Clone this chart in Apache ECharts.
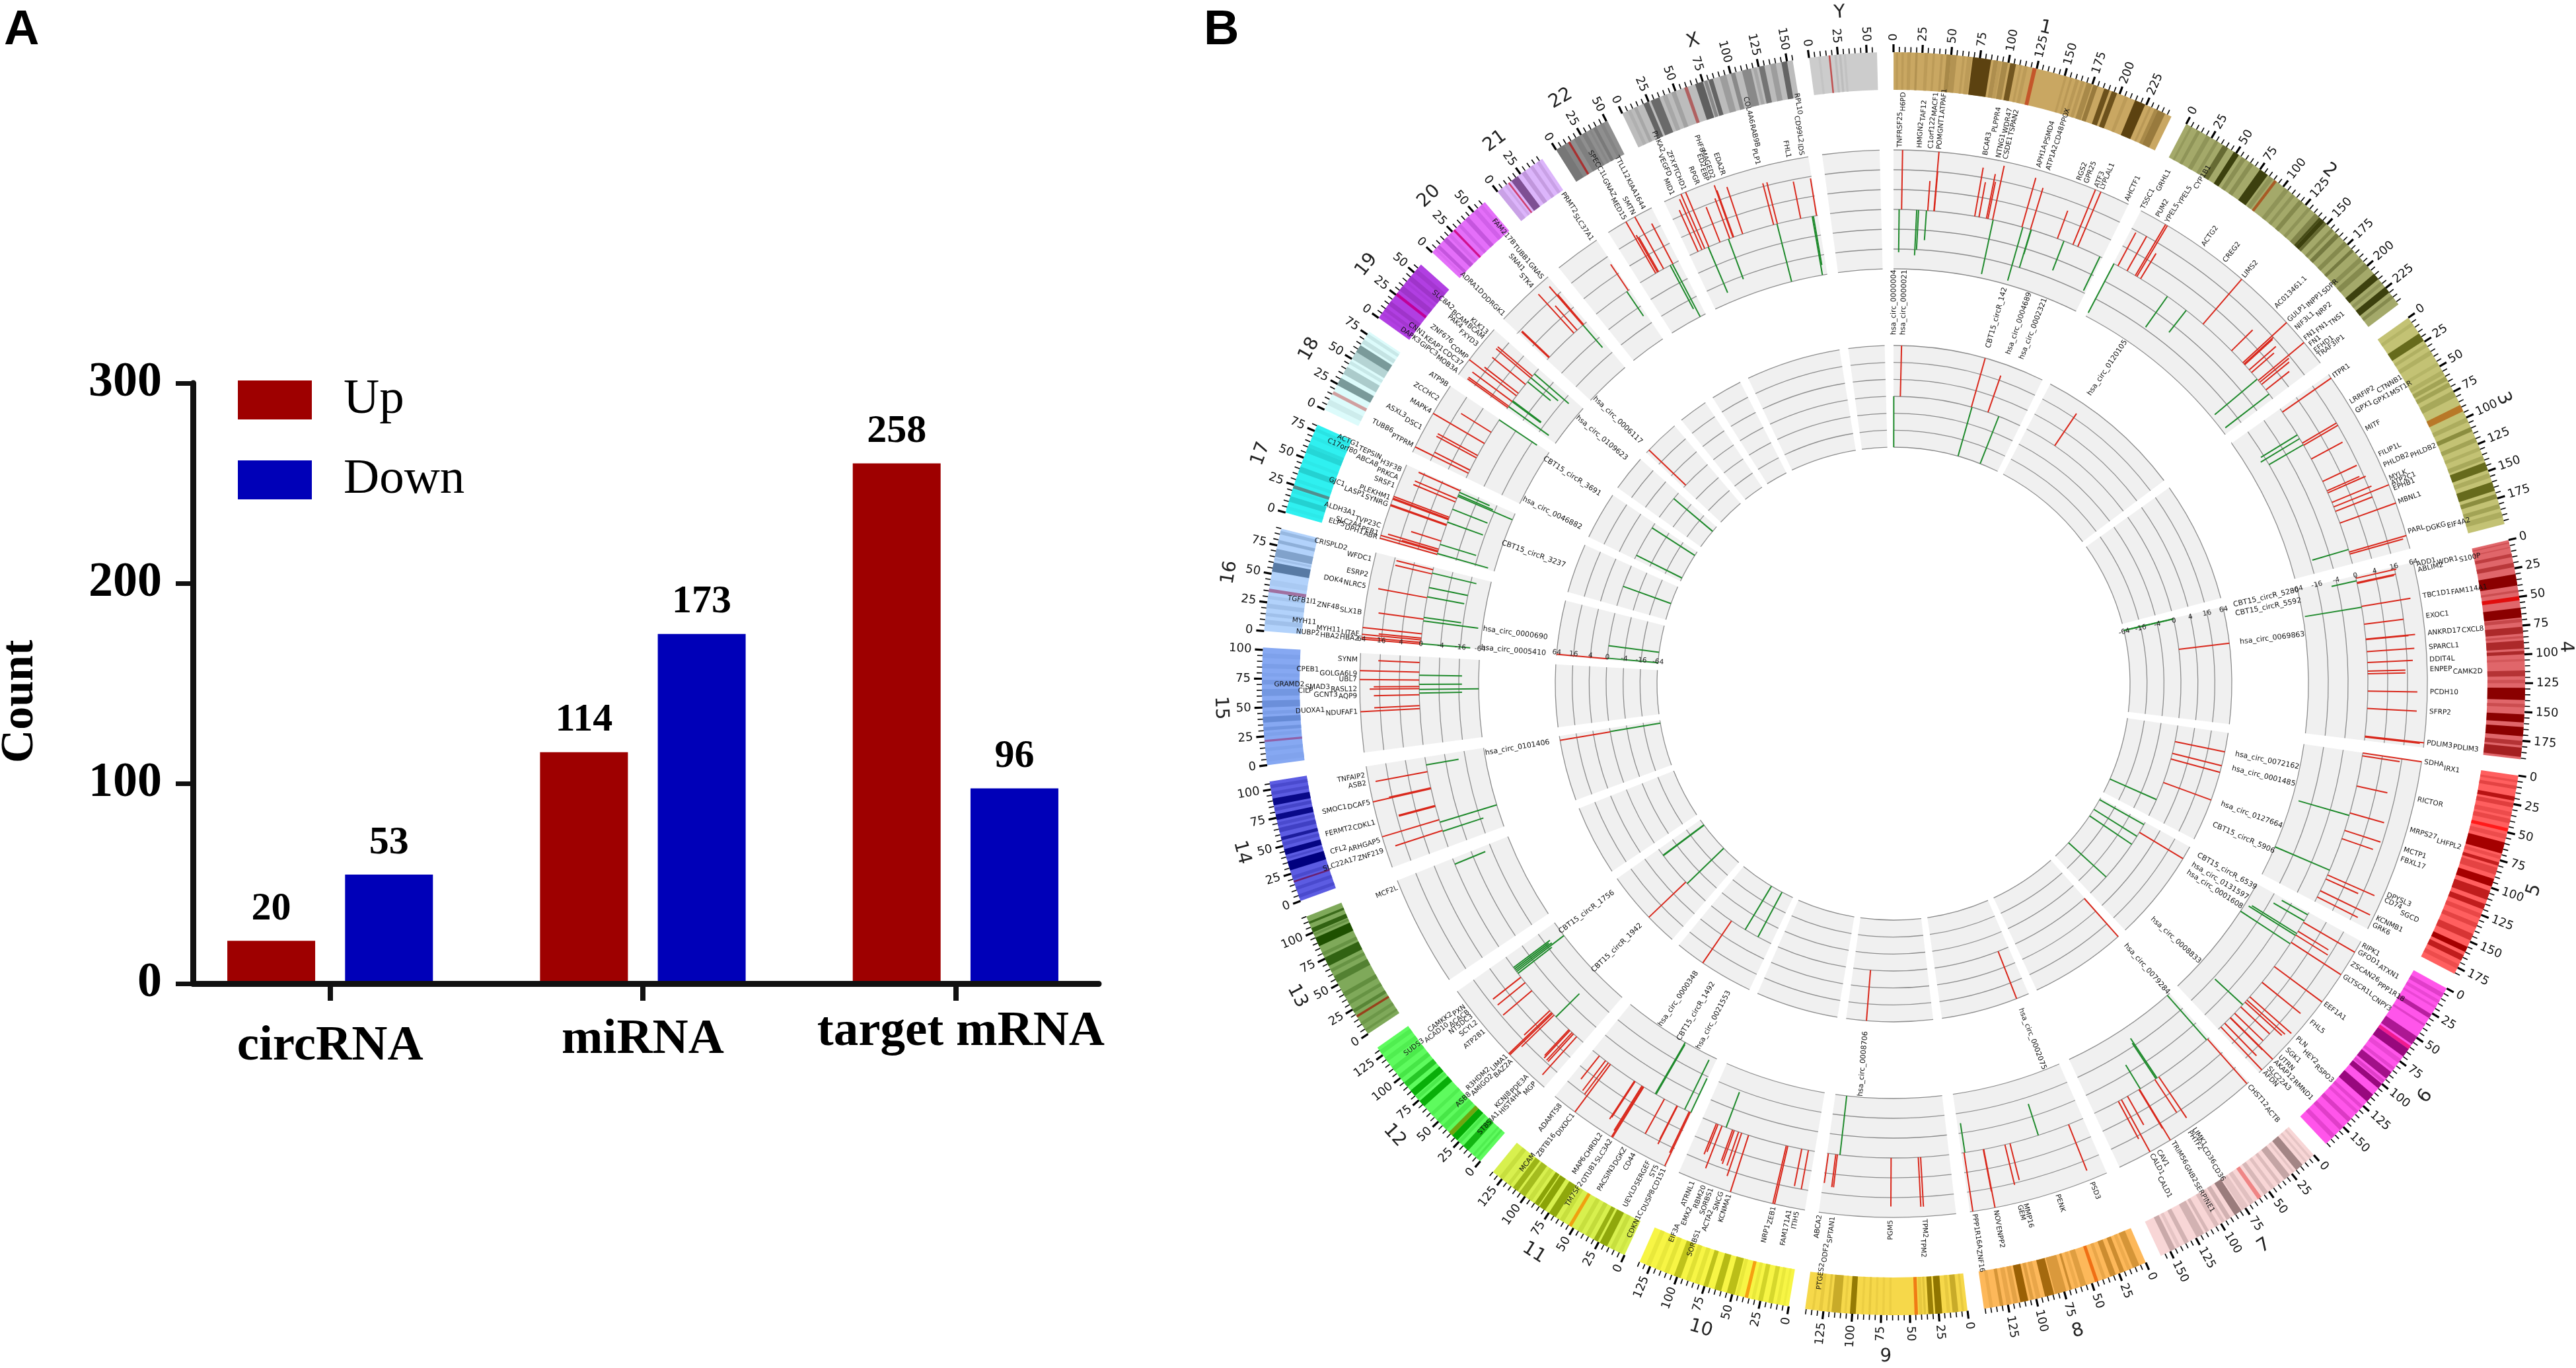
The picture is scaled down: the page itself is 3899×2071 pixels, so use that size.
<!DOCTYPE html>
<html><head><meta charset="utf-8"><style>html,body{margin:0;padding:0;background:#fff}#c{width:3899px;height:2071px}</style>
<script src="https://cdn.jsdelivr.net/npm/echarts@6/dist/echarts.min.js"></script></head>
<body><div id="c"></div><script>
// ---------- Panel A data ----------
const barCategories=['circRNA','miRNA','target mRNA'];
const upCounts=[20,114,258];
const downCounts=[53,173,96];
// ---------- Panel B data ----------
const chromNames=['1','2','3','4','5','6','7','8','9','10','11','12','13','14','15','16','17','18','19','20','21','22','X','Y'];
const chromSizes=[249,243,198,191,181,171,159,146,141,135,135,133,115,107,102,90,81,78,59,63,48,51,155,59];
const chromBase=['#c9a762','#a4a96a','#c3c274','#e0666a','#ff5f5f','#ff55ea','#f8d6d6','#fdb85a','#f6d84a','#f7f545','#d8f04e','#5efb5e','#7fa95a','#5c5ce2','#86a8f2','#b2d2fb','#2ff0f0','#dcfbfb','#b13fe2','#e46ff9','#dcb5fb','#8f8f8f','#bcbcbc','#cccccc'];
const chromDark=['#5c4210','#3c400e','#666a1c','#8a0000','#a50000','#98087d','#9a7c7c','#9a6005','#8f7500','#9aa000','#829a00','#00a500','#1e5000','#00007e','#4f76c2','#587aa4','#1fc4c4','#7a9a9a','#8423a5','#a53bc2','#7e4f93','#5a5a5a','#555555','#999999'];
const chromCentro=['#c4562a','#a85a25','#b87828','#e00d0d','#ff1a1a','#f01b8e','#ef8585','#f06f15','#f07c15','#f5a012','#f0a010','#70a510','#98401a','#6a1f6f','#9060a8','#a070a0','#508f8f','#d0a0a0','#c00098','#d0108e','#d0406f','#a83030','#b06060','#c05050'];
// [startMb,endMb,stain]; stain -1 is the centromere, otherwise the share of the dark colour
const chromBands=[
[[2,4,.12],[7,9,.12],[12,15,.12],[19,21,.2],[27,30,.12],[34,36,.12],[41,43,.15],[46,50,.3],[50,55,.2],[60,62,.12],[64,68,.12],[68.9,84.9,1],[87,91,.25],[91,94,.12],[94.7,99.7,.3],[101.7,106.7,.8],[110,112,.12],[114,117,.12],[121.5,125,-1],[150,152,.12],[155,157,.15],[160,163,.15],[165,168,.15],[170,175,.3],[176,180,.45],[186,190.8,.85],[193,197.8,.85],[205,208,.12],[214.5,224,1],[228,230,.15],[233,236,.3],[236,243,.45]],
[[4,6,.15],[11,14,.2],[20,24,.2],[29,32,.2],[36.6,41.8,.6],[47.8,52.9,1],[56,60,.25],[64,68,.25],[75,83.3,1],[85,89,.2],[90.5,93,-1],[102,106,.2],[110,113,.2],[118,122,.3],[128,131,.2],[136,141,.35],[141,143,.9],[143,147,1],[147,149.6,.6],[155,158,.3],[161,165,.45],[171,175,.3],[180,183,.45],[190,194,.25],[197,202,.3],[209,215,1],[218,221,.2],[224,230,1],[233,236,.3]],
[[5,8,.15],[16.4,23.9,1],[27,30,.2],[34,38,.2],[46,49,.15],[54,58,.2],[60,64,.35],[66,70,.35],[74,80,.3],[87.9,93.9,-1],[100,104,.25],[109,113,.6],[119,123,.35],[128,131,.2],[136,140,.3],[142,149,1],[152,156,.25],[160,168,1],[171,175,.6],[180,184,.35],[187,192,.25]],
[[2,3,.25],[6,7,.2],[12,15,.4],[20,24,.45],[30,40,1],[44,46,.25],[49.5,53,-1],[59.5,68,1],[69,72,.3],[76,82,.6],[84,86,.25],[88,95,.6],[97,100,.6],[104,106,.15],[114,119,.5],[122,125,.2],[129,139.5,1],[143,146,.25],[152,159,1],[163,171,1],[175,179,.5],[181,189,.7]],
[[4,6,.2],[9,12,.3],[18.4,22,.8],[24,28,.35],[32,36,.2],[38,42,.25],[46.4,49.4,-1],[52,56,.2],[59,69,1],[71,74,.2],[77,80,.7],[82,88,.3],[92,98.9,1],[103,111,.7],[115,120,.7],[124,128,.25],[133,137,.3],[143,149,.45],[155,160,1],[163,168,.7],[172,176,.2]],
[[5,9,.3],[12,15,.2],[18,20,.2],[26,30,.7],[36,38,.3],[49,57,.8],[58.8,62,-1],[62,70,1],[73,77,.2],[82,85,.25],[87,94,.9],[96,99,.3],[100,105,1],[112,120,1],[125,128,.25],[131,134,.2],[140,144,.35],[150,154,.3],[160,164,.25]],
[[3,5,.2],[8,10,.2],[13,20,.9],[22,24,.2],[27,33,.55],[37,40,.3],[44,47,.25],[51,55,.35],[58,61.7,-1],[66,70,.25],[72,78,.2],[79,86,1],[90,94,.4],[96,99,.25],[102,106,.3],[112,115,.35],[117,124,.4],[132,136,.4],[140,143,.2],[145,150,.5]],
[[6,12,.4],[14,17,.15],[20,24,.5],[28,33,.5],[37,40,.2],[44,47,-1],[55,60,.3],[62,65,.15],[68,70,.5],[73,83,.35],[84,92,.9],[96,100,.2],[102,105,.3],[107,114,1],[116,120,.25],[122,126,.2],[129,132,.4],[138,141,.15]],
[[3,5,.15],[8,13,.45],[15,18,.15],[22,28,1],[29.5,34,.9],[36,38,.2],[39,42,.15],[43,46,-1],[66,68,.1],[72,74,.1],[78,80,.1],[84,86,.15],[90,92,.1],[97,102,.95],[105,107,.12],[110,118,.45],[120,122,.2],[126,129,.15],[133,135,.12]],
[[3,5,.1],[8,11,.15],[14,18,.35],[23,27,.4],[30,33,.15],[36,39,-1],[44,47,.15],[48,55,.65],[60,66,.7],[72,76,.6],[80,84,.2],[88,92,.25],[97,103,.6],[108,112,.2],[116,120,.15],[125,129,.15]],
[[3,6,.12],[10,14,.2],[17,24,.85],[26,30,.75],[34,38,.25],[42,46,.2],[52,55,-1],[60,64,.2],[68,75,.85],[79,85,.9],[86,90,.9],[93,97,.2],[100,106,.6],[108,113,.7],[116,119,.2],[124,128,.2]],
[[3,5,.2],[7,9,.15],[14,20,.8],[23,26,.2],[27,33,.95],[33,37,-1],[40,45,.2],[48,52,.25],[57,60,.15],[68,74,.9],[76,79,.2],[80,86,.9],[90,95,.6],[99,103,.25],[108,112,.2],[118,122,.15],[126,130,.15]],
[[3,5,.2],[9,12,.2],[17,19,-1],[22,25,.4],[30,33,.25],[38,42,.3],[52,58,.45],[62,65,.25],[68,76,.8],[78,81,.25],[87,95,1],[97,99,.25],[100,104,.8],[108,110,.7]],
[[3,6,.2],[10,13,.2],[17,18.5,-1],[20,23,.2],[28,36,1],[38,40,.2],[42,47,.95],[50,53,.2],[55,58,.7],[62,66,.3],[68,71,.2],[73,78,.9],[81,84,.25],[86,92,.9],[95,98,.2],[101,104,.2]],
[[3,8,.1],[12,15,.15],[20,22,-1],[25,28,.15],[30,33,.4],[37,42,.6],[44,47,.2],[50,56,.5],[60,66,.35],[70,74,.3],[77,80,.12],[84,88,.2],[93,97,.15]],
[[6,10,.2],[13,16,.2],[20,24,.2],[28,31,.15],[34,37,-1],[40,45,.1],[52,60,1],[62,64,.2],[65,72,.55],[77,80,.4],[85,88,.3]],
[[3,6,.15],[10,15,.7],[18,21,.2],[22,25,-1],[28,31,.2],[37,42,.7],[46,49,.15],[55,60,.6],[60,63,.4],[68,71,.2],[75,78,.3]],
[[5,10,.15],[15,18,-1],[24,31,1],[35,42,.5],[45,48,.2],[50,57,.4],[57,64,1],[66,70,.25],[73,76,.2]],
[[4,6,.15],[8,11,.3],[14,18,.4],[24.5,27,-1],[30,35,.4],[38,40,.15],[42,46,.4],[50,54,.3]],
[[3,5,.15],[6,9,.5],[14,18,.6],[20,23,.2],[26,28,-1],[32,35,.3],[40,44,.5],[50,54,.3],[57,60,.2]],
[[0,5,.2],[8,10,.15],[11.5,13,-1],[15,22,1],[26,30,.3],[35,38,.25],[42,45,.2]],
[[0,8,.45],[8,12,.2],[12,14,-1],[18,23,.3],[26,30,.3],[33,35,.15],[37,40,.4],[44,47,.2]],
[[5,8,.12],[11,14,.2],[20,25,.85],[27,35,.8],[38,42,.2],[46,50,.25],[58,61,-1],[68,75,.9],[76,79,.5],[80,84,.85],[90,96,.3],[100,104,.5],[110,118,.5],[120,123,.2],[125,130,.7],[135,140,.3],[145,150,.85]],
[[8,10,.15],[17,18.5,-1],[22,24,.3],[26,28,.3],[30,32,.2]]];
const trackTicks=[-64,-16,-4,0,4,16,64];
const axisChromosomes=['4','16'];
// outer track: [chromosome, Mb, gene, signed fold change]
const midHits=[
['1',6.5,'TNFRSF25',-20],['1',9.3,'H6PD',64],['1',26.8,'HMGN2',-24],['1',28.9,'TAF12',-16],['1',38,'C1orf122',-8],['1',39.5,'MACF1',8],['1',46.6,'POMGNT1',64],['1',47,'ATPAF1',16],['1',94,'BCAR3',32],['1',99,'PLPPR4',12],['1',107.7,'NTNG1',24],['1',109.5,'WDR47',14],['1',115,'CSDE1',48],['1',115.6,'TSPAN2',-48],['1',149.8,'APH1A',36],['1',150.8,'PSMD4',-48],['1',160,'ATP1A2',21],['1',160.6,'CD48',-16],['1',161,'PPOX',-6],['1',192.8,'RGS2',8],['1',200.8,'GPR25',-9],['1',212,'ATF3',64],['1',218,'LYPLAL1',64],['1',246,'AHCTF1',-14],
['2',0.8,'TSSC1',-48],['2',6,'GRHL1',14],['2',18,'PUM2',16],['2',29,'YPEL5',64],['2',31,'YPEL5',64],['2',36,'CYP1B1',8],['2',73,'ACTG2',-14],['2',100,'CREG2',-7],['2',125,'LIMS2',64],['2',170,'AC013461.1',8],['2',189,'GULP1',64],['2',191,'INPP1',16],['2',192,'SDPR',14],['2',200,'NIF3L1',12],['2',204,'NRP2',8],['2',214,'FN1',-48],['2',216,'FN1',64],['2',218.7,'TNS1',14],['2',222,'FN1',12],['2',230,'EFHD1',8],['2',236,'TRAF3IP1',-48],
['3',4.6,'ITPR1',64],['3',36,'LRRFIP2',-20],['3',41,'CTNNB1',-24],['3',47,'GPX1',16],['3',49.2,'GPX1',-16],['3',49.9,'MST1R',16],['3',68,'MITF',12],['3',97,'FILIP1L',14],['3',109,'PHLDB2',12],['3',111.5,'PHLDB2',18],['3',123.5,'MYLK',20],['3',129,'ATP2C1',64],['3',134.5,'EPHB1',16],['3',149,'MBNL1',64],['3',181,'PARL',-14],['3',184,'DGKG',64],['3',186.5,'EIF4A2',48],
['4',2.9,'ADD1',18],['4',6,'WDR1',-6],['4',8,'S100P',16],['4',9,'ABLIM2',14],['4',36,'TBC1D1',32],['4',37,'FAM114A1',-56],['4',56.7,'EXOC1',16],['4',74,'ANKRD17',32],['4',74.6,'CXCL8',20],['4',88.4,'SPARCL1',28],['4',101,'DDIT4L',24],['4',111,'ENPEP',14],['4',114,'CAMK2D',14],['4',134,'PCDH10',32],['4',154,'SFRP2',32],['4',186,'PDLIM3',64],['4',187,'PDLIM3',48],
['5',0.3,'SDHA',64],['5',3.6,'IRX1',14],['5',39,'RICTOR',9],['5',71,'MRPS27',12],['5',74,'LHFPL2',-40],['5',92,'MCTP1',14],['5',102,'FBXL17',10],['5',141,'DPYSL3',-64],['5',147,'CD74',36],['5',152,'SGCD',12],['5',167,'KCNMB1',48],['5',175,'GRK6',24],
['6',3,'RIPK1',-8],['6',11,'GFOD1',-12],['6',13,'ATXN1',64],['6',25,'ZSCAN26',12],['6',28,'PPP1R18',-40],['6',30,'',14],['6',30.5,'',-48],['6',40,'GLTSCR1L',64],['6',42,'CNPY3',-64],['6',74,'EEF1A1',64],['6',97,'FHL5',32],['6',118.9,'PLN',48],['6',124,'HEY2',36],['6',127,'RSPO3',32],['6',131,'',-14],['6',134.5,'SGK1',16],['6',144.6,'UTRN',16],['6',151.5,'AKAP12',64],['6',152,'RMND1',24],['6',160.8,'SLC22A3',24],['6',167,'AFDN',64],
['7',2.5,'CHST12',64],['7',4,'ACTB',-64],['7',73.5,'LIMK1',32],['7',76,'CD36',-28],['7',77.5,'CD36',-20],['7',79,'PHTF2',16],['7',99,'TRIM56',-7],['7',100,'GNB2',64],['7',100.7,'SERPINE1',24],['7',116,'CAV1',10],['7',124,'CALD1',64],['7',128,'CALD1',20],
['8',18,'PSD3',32],['8',55,'PENK',-10],['8',89,'MMP16',14],['8',95,'GEM',18],['8',120,'NOV',64],['8',120.5,'ENPP2',20],['8',142,'PPP1R16A',-8],['8',143,'ZNF16',64],
['9',33,'TPM2',32],['9',35.7,'TPM2',32],['9',67,'PGM5',30],['9',126,'SPTAN1',-64],['9',129,'ODF2',10],['9',130.9,'PTGES2',10],['9',139.5,'ABCA2',8],
['10',7.5,'ITIH5',16],['10',15.3,'FAM171A1',14],['10',31.7,'ZEB1',64],['10',33.5,'NRP1',64],['10',78.6,'KCNMA1',64],['10',87,'SNCG',24],['10',90.7,'ACTA2',12],['10',96,'SORBS1',12],['10',98,'SORBS1',10],['10',106,'RBM20',-14],['10',111,'EMX2',24],['10',116,'EIF3A',8],['10',118,'ATRNL1',10],
['11',0.8,'CD151',-14],['11',1.6,'DUSP8',64],['11',2.9,'CDKN1C',24],['11',8.7,'ST5',-48],['11',18,'SERGEF',20],['11',18.6,'UEVLD',14],['11',35,'CD44',16],['11',46,'DGKZ',-56],['11',47,'PACSIN3',-64],['11',62.6,'SLC3A2',64],['11',63.7,'OTUB1',64],['11',64.9,'TM7SF2',40],['11',74.4,'CHRDL2',20],['11',75.3,'MAP6',24],['11',109,'DIXDC1',64],['11',112,'ZBTB16',16],['11',116,'MCAM',14],['11',125,'ADAMTS8',8],
['12',10,'MGP',36],['12',14.9,'HIST4H4',14],['12',17,'ST8SIA1',14],['12',20.5,'PDE3A',14],['12',22,'KCNJ8',12],['12',43,'BAZ2A',-10],['12',46,'AMIGO2',24],['12',48.5,'ASB8',64],['12',50,'LIMA1',64],['12',53,'R3HDM2',12],['12',84,'ATP2B1',14],['12',96,'SCYL2',12],['12',104,'NT5DC3',12],['12',109.5,'ACACB',-20],['12',112,'ACAD10',-64],['12',114,'SUDS3',-24],['12',116,'PXN',-20],['12',118,'CAMKK2',-24],
['13',108,'MCF2L',-10],
['14',19,'ZNF219',-20],['14',20,'SLC22A17',32],['14',30,'ARHGAP5',-64],['14',33,'CFL2',64],['14',49,'CDKL1',14],['14',50,'FERMT2',14],['14',70,'DCAF5',64],['14',71,'SMOC1',20],['14',90,'ASB2',40],['14',98,'TNFAIP2',-10],
['15',42,'NDUFAF1',64],['15',45.4,'DUOXA1',24],['15',58,'AQP9',24],['15',59.9,'GCNT3',-20],['15',64,'CILP',-64],['15',65,'RASL12',32],['15',67.4,'SMAD3',24],['15',70,'GRAMD2',-20],['15',75,'UBL7',64],['15',80.5,'GOLGA6L9',-20],['15',84,'CPEB1',64],['15',95,'SYNM',18],
['16',0.2,'HBA2',64],['16',0.5,'HBA2',-32],['16',2,'NUBP2',64],['16',5,'LITAF',64],['16',7,'MYH11',20],['16',12,'MYH11',64],['16',27,'SLX1B',-48],['16',29,'ZNF48',24],['16',31,'TGFB1I1',-14],['16',54,'NLRC5',32],['16',55,'DOK4',-14],['16',66,'ESRP2',-16],['16',82,'WFDC1',14],['16',83,'',-24],['16',87,'CRISPLD2',14],
['17',1,'ABR',64],['17',2,'DPH1',-40],['17',4,'ELP5',64],['17',5,'PER1',14],['17',7.2,'SLC2A4',40],['17',13,'TVP23C',-14],['17',17,'ALDH3A1',9],['17',36,'SYNRG',64],['17',37,'LASP1',64],['17',40,'GJC1',-14],['17',43,'PLEKHM1',64],['17',44,'',64],['17',46,'',64],['17',56,'SRSF1',-14],['17',65,'PRKCA',24],['17',69,'ABCA8',24],['17',72,'C17orf80',-64],['17',73.8,'H3F3B',-14],['17',77,'TEPSIN',-10],['17',79,'ACTG1',24],
['18',6,'PTPRM',64],['18',10,'TUBB6',16],['18',26,'DSC1',24],['18',29,'ASXL3',24],['18',45,'MAPK4',64],['18',60,'ZCCHC2',12],['18',77,'ATP9B',-24],
['19',2,'MOB3A',32],['19',3.6,'GIPC3',-32],['19',3.9,'DAPK3',32],['19',10.5,'CDC37',-12],['19',10.6,'KEAP1',32],['19',11.6,'CNN1',-12],['19',18.9,'COMP',64],['19',22.4,'ZNF676',20],['19',35.6,'FXYD3',20],['19',39.6,'PAK4',-8],['19',45.3,'BCAM',24],['19',45.4,'BCAM',-12],['19',47.9,'SLC8A2',24],['19',51.5,'KLK13',-24],
['20',3.2,'DDRGK1',14],['20',4.2,'ADRA1D',14],['20',43.6,'STK4',40],['20',48.6,'SNAI1',10],['20',57.4,'GNAS',36],['20',57.6,'TUBB1',-8],['20',58.5,'FAM217B',16],
['21',43.9,'SLC37A1',-8],['21',46,'PRMT2',9],
['22',21,'MED15',64],['22',23.4,'GNAZ',20],['22',24.7,'SPECC1L',16],['22',31.4,'SMTN',64],['22',40,'',-32],['22',43,'KIAA1644',-64],['22',43.5,'TTLL12',24],
['X',10.5,'MID1',24],['X',15.4,'VEGFD',48],['X',18.9,'PHKA2',64],['X',23.4,'PTCHD1',-32],['X',24,'ZFX',64],['X',38,'RPGR',14],['X',48.4,'EBP',-20],['X',50,'ED2',20],['X',54,'PHF8',48],['X',54.8,'MAGED2',32],['X',65.8,'EDA2R',32],['X',103,'PLP1',20],['X',107,'RAB9B',-64],['X',107.4,'COL4A6',20],['X',135,'FHL1',14],['X',148.5,'IDS',-64],['X',149.9,'CD99L2',-32],['X',153.6,'RPL10',14]
];
// inner track: [chromosome, Mb, circRNA, signed fold change]
const innerHits=[
['1',0.5,'hsa_circ_0000004',-64],['1',13,'hsa_circ_0000021',64],['1',150,'CBT15_circR_142',64],['1',151,'',-64],['1',183,'hsa_circ_0004689',24],['1',205,'hsa_circ_0002321',-64],
['2',62,'hsa_circ_0120105',24],
['4',1,'CBT15_circR_5280',-64],['4',1.4,'CBT15_circR_5592',-64],['4',60,'hsa_circ_0069863',64],
['5',31,'hsa_circ_0072162',64],['5',54,'hsa_circ_0001485',64],['5',65,'',64],['5',112,'hsa_circ_0127664',64],['5',147,'CBT15_circR_5906',-64],
['6',5,'CBT15_circR_6539',-64],['6',22,'hsa_circ_0131597',64],['6',31,'hsa_circ_0001608',-64],['6',49,'',-64],['6',128,'hsa_circ_0008833',-64],
['7',1,'hsa_circ_0079284',64],['8',21,'hsa_circ_0002075',64],['9',108,'hsa_circ_0008706',64],
['11',28,'hsa_circ_0021553',-64],['11',56,'CBT15_circR_1492',-64],['11',87,'hsa_circ_0000348',64],
['12',48,'',-64],['12',52,'CBT15_circR_1942',64],['12',118,'',-64],['12',119,'CBT15_circR_1756',-64],
['14',100,'hsa_circ_0101406',64],['14',100.5,'',-64],
['16',2,'hsa_circ_0005410',64],['16',3,'',-64],['16',27,'hsa_circ_0000690',-64],
['17',39,'CBT15_circR_3237',-64],['18',8,'hsa_circ_0046882',-64],['18',68,'CBT15_circR_3691',-64],['19',45,'hsa_circ_0109623',-64],['20',6,'hsa_circ_0006117',64]
];
// ---------- geometry of the chromosome ring ----------
const GAP=1.5, DEG=(360-GAP*chromSizes.length)/chromSizes.reduce((a,b)=>a+b,0);
const chromStart=[];{let t=0;chromSizes.forEach((s,i)=>{chromStart[i]=t;t+=s*DEG+GAP;});}
const angleOf=(c,mb)=>chromStart[chromNames.indexOf(c)]+mb*DEG;
const levelOf=v=>Math.sign(v)*Math.log(Math.abs(v))/Math.log(4);
const hex=h=>[1,3,5].map(i=>parseInt(h.substr(i,2),16));
const mix=(a,b,t)=>{const x=hex(a),y=hex(b);return 'rgb('+x.map((v,i)=>Math.round(v+(y[i]-v)*t)).join(',')+')';};
const FONT='"DejaVu Sans"', CENTER=[2866,1035], RED='#d9281c', GREEN='#1f8a2c';
const measure=document.createElement('canvas').getContext('2d');
const textWidth=(s,size)=>{measure.font=size+'px '+FONT;return measure.measureText(s).width;};
function sectorEl(api,params,r0,r1,a0,a1,fill){
  const p=api.coord([r0,a0]),q=api.coord([r1,a1]),cs=params.coordSys;
  return {type:'sector',shape:{cx:cs.cx,cy:cs.cy,r0:p[2],r:q[2],startAngle:Math.atan2(p[1]-cs.cy,p[0]-cs.cx),endAngle:Math.atan2(q[1]-cs.cy,q[0]-cs.cx),clockwise:true},style:{fill:fill}};
}
function outPoint(api,params,val,a,d){
  const p=api.coord([val,a]),cs=params.coordSys,r=p[2];
  return [cs.cx+(p[0]-cs.cx)*(r+d)/r,cs.cy+(p[1]-cs.cy)*(r+d)/r];
}
function radialText(api,params,val,a,d,text,size,fill){
  const p=outPoint(api,params,val,a,d),right=a%360<180;
  const cw=right?a-90:a-270;
  return {type:'text',x:p[0],y:p[1],rotation:-cw*Math.PI/180,style:{text:text,fontSize:size,fontFamily:FONT,fill:fill,align:right?'left':'right',verticalAlign:'middle',textAlign:right?'left':'right',textVerticalAlign:'middle'}};
}
// ---------- rows for the ring series ----------
const bandRows=[],bandFill=[];
chromNames.forEach((n,i)=>{
  bandRows.push([0,1,chromStart[i],chromStart[i]+chromSizes[i]*DEG]);bandFill.push(chromBase[i]);
  chromBands[i].forEach(b=>{bandRows.push([0,1,chromStart[i]+b[0]*DEG,chromStart[i]+b[1]*DEG]);bandFill.push(b[2]<0?chromCentro[i]:mix(chromBase[i],chromDark[i],b[2]));});
});
const tickRows=[];
chromNames.forEach((n,i)=>{for(let m=0;m<=chromSizes[i];m+=5)tickRows.push([1,chromStart[i]+m*DEG,m%25===0?1:0,m]);});
const chromLabelRows=chromNames.map((n,i)=>[1,chromStart[i]+chromSizes[i]*DEG/2]);
const trackRows=chromNames.map((n,i)=>[-3,3,chromStart[i],chromStart[i]+chromSizes[i]*DEG]);
const gridRows=[];
trackRows.forEach(t=>[-3,-2,-1,0,1,2,3].forEach(l=>gridRows.push([l,t[2],t[3]])));
const hitRows=h=>h.map(x=>[levelOf(x[3]),angleOf(x[0],x[1]),x[3]]);
const GENE_SIZE=10.5;
const midLabels=[];{let prev=null,off=0,count=0;midHits.forEach(h=>{if(!h[2])return;const a=angleOf(h[0],h[1]);
  if(prev&&a-prev.a<0.56&&prev.c===h[0]&&count<3){off+=textWidth(prev.n,GENE_SIZE)+1;count++;}else{off=0;count=1;}
  midLabels.push([3,a,off]);midLabels[midLabels.length-1].name=h[2];prev={a:a,n:h[2],c:h[0]};});}
const innerLabels=[];{let last=-9;innerHits.forEach(h=>{if(!h[2])return;let a=angleOf(h[0],h[1]);if(a-last<1.5)a=last+1.5;last=a;innerLabels.push([3,a]);innerLabels[innerLabels.length-1].name=h[2];});}
const midLabelNames=midLabels.map(l=>l.name),innerLabelNames=innerLabels.map(l=>l.name);
const axisRows=[];axisChromosomes.forEach(c=>trackTicks.forEach(t=>axisRows.push([t===0?0:levelOf(t),angleOf(c,0),t])));
// ---------- series ----------
const poly=(i,name,data,render,extra)=>Object.assign({type:'custom',coordinateSystem:'polar',polarIndex:i,name:name,data:data,renderItem:(params,api)=>render(api,params),silent:true,clip:false,animation:false},extra||{});
const trackBg=(api,params)=>sectorEl(api,params,api.value(0),api.value(1),api.value(2),api.value(3),'#f0f0f0');
const gridArc=(api,params)=>{const l=api.value(0),p=api.coord([l,api.value(1)]),q=api.coord([l,api.value(2)]),cs=params.coordSys;
  return {type:'arc',shape:{cx:cs.cx,cy:cs.cy,r:p[2],startAngle:Math.atan2(p[1]-cs.cy,p[0]-cs.cx),endAngle:Math.atan2(q[1]-cs.cy,q[0]-cs.cx),clockwise:true},style:{fill:null,stroke:'#8c8c8c',lineWidth:1.3}};};
const hitLine=(api)=>{const v=api.value(0),a=api.value(1),p=api.coord([0,a]),q=api.coord([v,a]);
  return {type:'line',shape:{x1:p[0],y1:p[1],x2:q[0],y2:q[1]},style:{stroke:v>0?RED:GREEN,lineWidth:2}};};
const axisText=(dA)=>(api,params)=>{const a=api.value(1)+dA,p=api.coord([api.value(0),a]);const right=a<180;
  return {type:'text',x:p[0],y:p[1],rotation:-(right?a-90:a-270)*Math.PI/180,style:{text:String(api.value(2)),fontSize:10.5,fontFamily:FONT,fill:'#222',align:'center',verticalAlign:'middle',textAlign:'center',textVerticalAlign:'middle'}};};
const ringSeries=[
 poly(0,'bands',bandRows,(api,params)=>sectorEl(api,params,api.value(0),api.value(1),api.value(2),api.value(3),bandFill[params.dataIndex])),
 poly(0,'ticks',tickRows,(api,params)=>{const a=api.value(1),major=api.value(2)===1,p=api.coord([1,a]),q=outPoint(api,params,1,a,major?12:8);
   return {type:'line',shape:{x1:p[0],y1:p[1],x2:q[0],y2:q[1]},style:{stroke:'#000',lineWidth:major?3.2:1.6}};}),
 poly(0,'tickLabels',tickRows.filter(t=>t[2]===1),(api,params)=>radialText(api,params,1,api.value(1),17,String(api.value(3)),18,'#111')),
 poly(0,'chromLabels',chromLabelRows,(api,params)=>{const a=api.value(1),p=outPoint(api,params,1,a,63),cw=a<90?a:(a<270?a-180:a-360);
   return {type:'text',x:p[0],y:p[1],rotation:-cw*Math.PI/180,style:{text:chromNames[params.dataIndex],fontSize:28,fontFamily:FONT,fill:'#222',align:'center',verticalAlign:'middle',textAlign:'center',textVerticalAlign:'middle'}};}),
 poly(1,'midTrack',trackRows,trackBg),
 poly(1,'midGrid',gridRows,gridArc),
 poly(1,'midHits',hitRows(midHits),hitLine),
 poly(1,'midLabels',midLabels,(api,params)=>radialText(api,params,3,api.value(1),4+api.value(2),midLabelNames[params.dataIndex],GENE_SIZE,'#111')),
 poly(1,'midAxis',axisRows,axisText(0)),
 poly(2,'innerTrack',trackRows,trackBg),
 poly(2,'innerGrid',gridRows,gridArc),
 poly(2,'innerHits',hitRows(innerHits),hitLine),
 poly(2,'innerLabels',innerLabels,(api,params)=>radialText(api,params,3,api.value(1),16,innerLabelNames[params.dataIndex],11,'#111')),
 poly(2,'innerAxis',axisRows,axisText(0.5))
];
const SERIF='"Liberation Serif"';
const catStyle=(name)=>name==='circRNA'?'a':name==='miRNA'?'b':'c';
const catRich=(t,l)=>({fontFamily:SERIF,fontWeight:'bold',fontSize:75,color:'#000',padding:[t,0,0,l]});
const option={
 backgroundColor:'#fff',animation:false,
 title:[{text:'A',left:6,top:10,textStyle:{fontFamily:'"Liberation Sans"',fontWeight:'bold',fontSize:74,color:'#000'},padding:0},
        {text:'B',left:1822,top:10,textStyle:{fontFamily:'"Liberation Sans"',fontWeight:'bold',fontSize:74,color:'#000'},padding:0}],
 legend:{data:['Up','Down'],left:360,top:568,padding:0,orient:'vertical',itemWidth:112,itemHeight:59,itemGap:46,icon:'rect',textStyle:{fontFamily:SERIF,fontSize:75,color:'#000',padding:[0,0,0,43]}},
 grid:[{left:263,top:574,width:1420,height:911},{left:292,top:580,width:1371,height:909}],
 xAxis:[{type:'category',gridIndex:0,data:barCategories,axisLine:{show:false},axisTick:{show:true,alignWithLabel:true,length:30,lineStyle:{width:8,color:'#111'}},
          axisLabel:{interval:0,margin:40,formatter:v=>'{'+catStyle(v)+'|'+v+'}',rich:{a:catRich(22,0),b:catRich(12,0),c:catRich(0,16)}}},
        {type:'value',gridIndex:1,min:0,max:1,axisLine:{show:true,onZero:false,lineStyle:{width:9,color:'#111'}},axisTick:{show:false},axisLabel:{show:false},splitLine:{show:false}}],
 yAxis:[{type:'value',gridIndex:0,min:0,max:300,show:false},
        {type:'value',gridIndex:1,min:0,max:300,interval:100,axisLine:{show:true,lineStyle:{width:9,color:'#111'}},axisTick:{show:true,length:26,lineStyle:{width:7,color:'#111'}},axisLabel:{margin:47,fontFamily:SERIF,fontWeight:'bold',fontSize:74,color:'#000'},splitLine:{show:false}}],
 polar:[{center:CENTER,radius:[899,956]},{center:CENTER,radius:[628,808]},{center:CENTER,radius:[358,512]}],
 angleAxis:[0,1,2].map(i=>({polarIndex:i,type:'value',min:0,max:360,startAngle:90,clockwise:true,show:false})),
 radiusAxis:[{polarIndex:0,type:'value',min:0,max:1,show:false},{polarIndex:1,type:'value',min:-3,max:3,show:false},{polarIndex:2,type:'value',min:-3,max:3,show:false}],
 graphic:[{type:'text',x:31,y:1062,rotation:Math.PI/2,style:{text:'Count',fontFamily:SERIF,fontWeight:'bold',fontSize:70,fill:'#000',align:'center',verticalAlign:'middle',textAlign:'center',textVerticalAlign:'middle'}}],
 series:[
  {type:'bar',name:'Up',xAxisIndex:0,yAxisIndex:0,data:upCounts,barWidth:133,barGap:'34%',itemStyle:{color:'#9e0000'},label:{show:true,position:'top',distance:18,fontFamily:SERIF,fontWeight:'bold',fontSize:60,color:'#000'}},
  {type:'bar',name:'Down',xAxisIndex:0,yAxisIndex:0,data:downCounts,barWidth:133,itemStyle:{color:'#0000b8'},label:{show:true,position:'top',distance:18,fontFamily:SERIF,fontWeight:'bold',fontSize:60,color:'#000'}}
 ].concat(ringSeries)
};
const chart=echarts.init(document.getElementById('c'),null,{renderer:'canvas',width:3899,height:2071});
chart.setOption(option);
</script></body></html>
